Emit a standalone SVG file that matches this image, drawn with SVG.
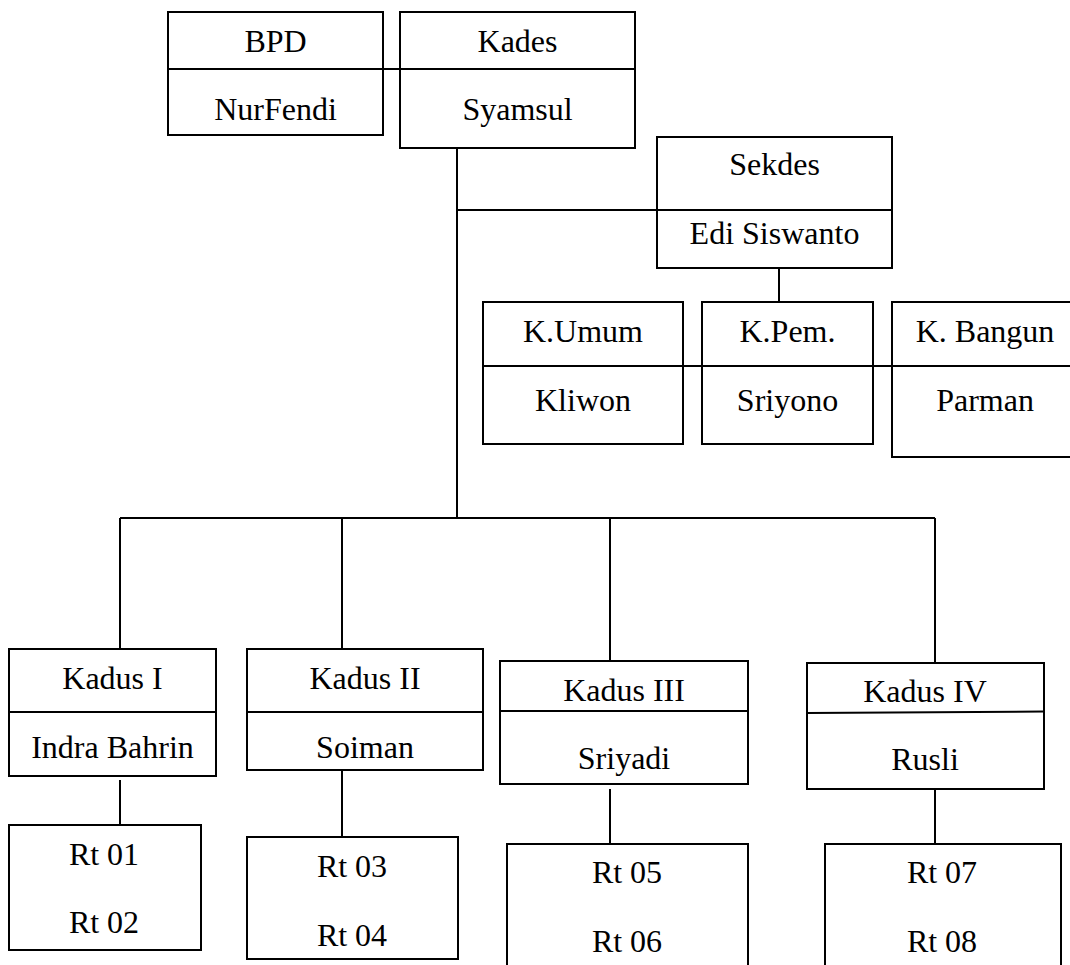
<svg xmlns="http://www.w3.org/2000/svg" width="1070" height="965" viewBox="0 0 1070 965">
<style>
.box{fill:#fff;stroke:#000;stroke-width:2}
.div{stroke:#000;stroke-width:2}
.conn line{stroke:#000;stroke-width:2}
text{font-family:"Liberation Serif","Times New Roman",serif;font-size:32px;fill:#000;text-anchor:middle}
</style>
<rect width="1070" height="965" fill="#fff"/>
<g id="connectors" class="conn">
<line x1="383" y1="69" x2="400" y2="69"/>
<line x1="457" y1="148" x2="457" y2="518"/>
<line x1="457" y1="210" x2="657" y2="210"/>
<line x1="779" y1="268" x2="779" y2="302"/>
<line x1="682" y1="366" x2="702" y2="366"/>
<line x1="873" y1="366" x2="892" y2="366"/>
<line x1="120" y1="518" x2="935" y2="518"/>
<line x1="120" y1="518" x2="120" y2="649"/>
<line x1="342" y1="518" x2="342" y2="649"/>
<line x1="610" y1="518" x2="610" y2="661"/>
<line x1="935" y1="518" x2="935" y2="663"/>
<line x1="120" y1="780" x2="120" y2="825"/>
<line x1="342" y1="770" x2="342" y2="837"/>
<line x1="610" y1="789" x2="610" y2="844"/>
<line x1="935" y1="789" x2="935" y2="844"/>
</g>
<g id="bpd">
<rect class="box" x="168" y="12" width="215" height="123"/>
<line class="div" x1="168" y1="69" x2="383" y2="69"/>
<text x="275.5" y="52">BPD</text>
<text x="275.5" y="120">NurFendi</text>
</g>
<g id="kades">
<rect class="box" x="400" y="12" width="235" height="136"/>
<line class="div" x1="400" y1="69" x2="635" y2="69"/>
<text x="517.5" y="52">Kades</text>
<text x="517.5" y="120">Syamsul</text>
</g>
<g id="sekdes">
<rect class="box" x="657" y="137" width="235" height="131"/>
<line class="div" x1="657" y1="210" x2="892" y2="210"/>
<text x="774.5" y="175">Sekdes</text>
<text x="774.5" y="244">Edi Siswanto</text>
</g>
<g id="kumum">
<rect class="box" x="483" y="302" width="200" height="142"/>
<line class="div" x1="483" y1="366" x2="683" y2="366"/>
<text x="583" y="342">K.Umum</text>
<text x="583" y="411">Kliwon</text>
</g>
<g id="kpem">
<rect class="box" x="702" y="302" width="171" height="142"/>
<line class="div" x1="702" y1="366" x2="873" y2="366"/>
<text x="787.5" y="342">K.Pem.</text>
<text x="787.5" y="411">Sriyono</text>
</g>
<g id="kbangun">
<rect class="box" x="892" y="302" width="190" height="155"/>
<line class="div" x1="892" y1="366" x2="1082" y2="366"/>
<text x="985" y="342">K. Bangun</text>
<text x="985" y="411">Parman</text>
</g>
<g id="kadus1">
<rect class="box" x="9" y="649" width="207" height="127"/>
<line class="div" x1="9" y1="712" x2="216" y2="712"/>
<text x="112.5" y="689">Kadus I</text>
<text x="112.5" y="758">Indra Bahrin</text>
</g>
<g id="kadus2">
<rect class="box" x="247" y="649" width="236" height="121"/>
<line class="div" x1="247" y1="712" x2="483" y2="712"/>
<text x="365" y="689">Kadus II</text>
<text x="365" y="758">Soiman</text>
</g>
<g id="kadus3">
<rect class="box" x="500" y="661" width="248" height="123"/>
<line class="div" x1="500" y1="711" x2="748" y2="711"/>
<text x="624" y="701">Kadus III</text>
<text x="624" y="769">Sriyadi</text>
</g>
<g id="kadus4">
<rect class="box" x="807" y="663" width="237" height="126"/>
<line class="div" x1="807" y1="713" x2="1044" y2="711.5"/>
<text x="925" y="702">Kadus IV</text>
<text x="925" y="770">Rusli</text>
</g>
<g id="rt0102">
<rect class="box" x="9" y="825" width="192" height="125"/>
<text x="104" y="865">Rt 01</text>
<text x="104" y="933">Rt 02</text>
</g>
<g id="rt0304">
<rect class="box" x="247" y="837" width="211" height="122"/>
<text x="352" y="877">Rt 03</text>
<text x="352" y="946">Rt 04</text>
</g>
<g id="rt0506">
<rect class="box" x="507" y="844" width="241" height="140"/>
<text x="627" y="883">Rt 05</text>
<text x="627" y="952">Rt 06</text>
</g>
<g id="rt0708">
<rect class="box" x="825" y="844" width="236" height="140"/>
<text x="942" y="883">Rt 07</text>
<text x="942" y="952">Rt 08</text>
</g>
</svg>
